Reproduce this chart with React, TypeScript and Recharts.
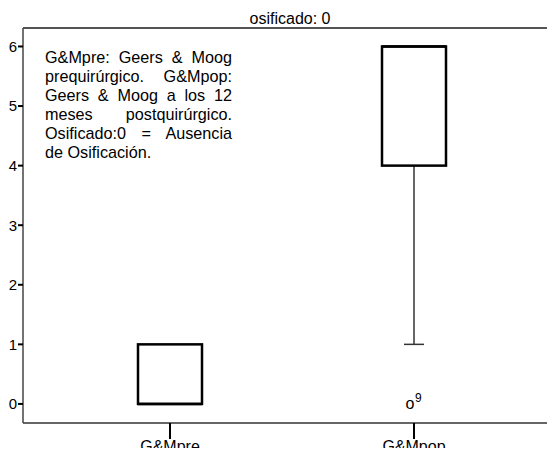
import { Bar, ComposedChart, Scatter, XAxis, YAxis } from "recharts";

const categories = ["G&Mpre", "G&Mpop"];
const q1 = [0, 4];
const q3 = [1, 6];
const median = [0, 6];
const whiskerLow = [0, 1];
const whiskerHigh = [1, 6];
const outlierValue: (number | null)[] = [null, 0];
const outlierLabel = ["", "9"];
const yTicks = [0, 1, 2, 3, 4, 5, 6];

const rows = categories.map((name, i) => ({
  name,
  box: [q1[i], q3[i]],
  q1: q1[i],
  q3: q3[i],
  median: median[i],
  low: whiskerLow[i],
  high: whiskerHigh[i],
  outlier: outlierValue[i],
  outlierLabel: outlierLabel[i],
}));

const font = "'Liberation Sans', Arial, Helvetica, sans-serif";

function BoxShape(props: any) {
  const { x, y, width, height, payload } = props;
  const top = Math.min(y, y + height);
  const h = Math.abs(height);
  const unit = h / (payload.q3 - payload.q1);
  const bottom = top + h;
  const cx = x + width / 2;
  const medY = bottom - (payload.median - payload.q1) * unit;
  const lowY = bottom + (payload.q1 - payload.low) * unit;
  const highY = top - (payload.high - payload.q3) * unit;
  return (
    <g>
      {payload.low < payload.q1 && (
        <g stroke="#333" strokeWidth={1.5}>
          <line x1={cx} x2={cx} y1={bottom} y2={lowY} />
          <line x1={cx - 10} x2={cx + 10} y1={lowY} y2={lowY} />
        </g>
      )}
      {payload.high > payload.q3 && (
        <g stroke="#333" strokeWidth={1.5}>
          <line x1={cx} x2={cx} y1={top} y2={highY} />
          <line x1={cx - 10} x2={cx + 10} y1={highY} y2={highY} />
        </g>
      )}
      <rect x={x} y={top} width={width} height={h} fill="#fff" stroke="#000" strokeWidth={2.5} />
      <line x1={x} x2={x + width} y1={medY} y2={medY} stroke="#000" strokeWidth={2.5} />
    </g>
  );
}

function OutlierShape(props: any) {
  const { cx, cy, payload } = props;
  if (payload.outlier == null) return null;
  return (
    <g fontFamily={font} fill="#000">
      <text x={cx - 4} y={cy + 5} textAnchor="middle" fontSize={16}>o</text>
      <text x={cx + 1} y={cy - 2} fontSize={12}>{payload.outlierLabel}</text>
    </g>
  );
}

export default function App() {
  return (
    <div style={{ position: "relative", width: 555, height: 456, margin: -8, fontFamily: font, background: "#fff", overflow: "hidden" }}>
      <div style={{ position: "absolute", left: 0, width: 580, top: 11, lineHeight: "16px", textAlign: "center", fontSize: 16 }}>
        osificado: 0
      </div>
      <ComposedChart width={600} height={456} data={rows} margin={{ top: 27, right: 0, bottom: 0, left: 0 }}>
        <XAxis
          xAxisId="top"
          dataKey="name"
          orientation="top"
          height={1}
          tick={false}
          tickLine={false}
          axisLine={{ stroke: "#555", strokeWidth: 2 }}
        />
        <XAxis
          dataKey="name"
          type="category"
          height={33}
          padding={{ left: 25, right: 64 }}
          tickSize={16}
          tickLine={{ stroke: "#000", strokeWidth: 2 }}
          axisLine={{ stroke: "#333", strokeWidth: 1.5 }}
          tick={{ fontSize: 16, fill: "#000", fontFamily: font }}
          tickMargin={2}
        />
        <YAxis
          type="number"
          domain={[-0.32, 6.31]}
          ticks={yTicks}
          allowDataOverflow
          width={23}
          tickSize={5}
          tickLine={{ stroke: "#000", strokeWidth: 2 }}
          axisLine={{ stroke: "#444", strokeWidth: 1.5 }}
          tick={{ fontSize: 15, fill: "#000", fontFamily: font }}
          tickMargin={1}
        />
        <Bar dataKey="box" barSize={64} shape={BoxShape} isAnimationActive={false} />
        <Scatter dataKey="outlier" shape={OutlierShape} isAnimationActive={false} />
        <Bar xAxisId="top" dataKey="none" isAnimationActive={false} />
      </ComposedChart>
      <div
        style={{
          position: "absolute",
          left: 45,
          top: 48,
          width: 187,
          fontSize: 16.2,
          lineHeight: "19px",
          textAlign: "justify",
          color: "#000",
        }}
      >
        G&amp;Mpre: Geers &amp; Moog prequirúrgico. G&amp;Mpop: Geers &amp; Moog a los 12 meses postquirúrgico.
        Osificado:0 = Ausencia de Osificación.
      </div>
    </div>
  );
}
